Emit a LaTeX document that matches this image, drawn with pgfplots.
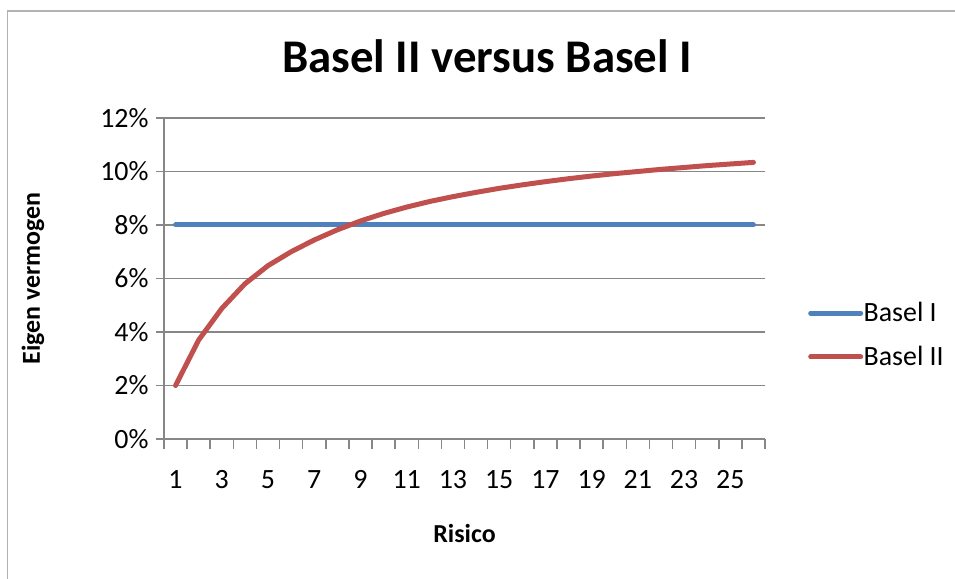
\documentclass[border=0pt]{standalone}
\usepackage{pgfplots}
\pgfplotsset{compat=1.18}
\usepackage{fontspec}
\setmainfont{Carlito}
\definecolor{bI}{HTML}{4F81BD}
\definecolor{bII}{HTML}{C0504D}
\definecolor{gridc}{HTML}{878787}
\begin{document}
\begin{tikzpicture}[x=1bp,y=1bp]
\useasboundingbox (0,0) rectangle (955,579);
\draw[line width=1.5bp, color=gray!60] (7.5,-20) -- (7.5,568) -- (980,568);
\node[font=\fontsize{47}{54}\selectfont\bfseries] at (487,523) {Basel II versus Basel I};
\begin{axis}[at={(164bp,140bp)}, anchor=south west, scale only axis,
  width=601bp, height=321bp,
  xmin=0.5, xmax=26.5, ymin=0, ymax=12,
  axis x line=bottom, axis y line=left,
  axis line style={-, gridc, line width=1.5bp},
  tick align=outside,
  xtick={1,3,...,25}, minor xtick={0.5,1.5,...,26.5},
  major x tick style={draw=none},
  minor x tick style={gridc, line width=1.5bp},
  minor tick length=10bp,
  ytick={0,2,...,12},
  major y tick style={gridc, line width=1.5bp},
  major tick length=8bp,
  ymajorgrids, major grid style={gridc, line width=1.5bp},
  yticklabel={\pgfmathprintnumber{\tick}\%},
  /pgf/number format/assume math mode=true,
  ticklabel style={font=\fontsize{28}{33}\selectfont},
  xticklabel style={yshift=-20bp},
  yticklabel style={xshift=-4bp},
  xlabel={Risico}, ylabel={Eigen vermogen},
  label style={font=\fontsize{26}{31}\selectfont\bfseries},
  xlabel style={at={(axis description cs:0.5,-0.295)}, anchor=center},
  ylabel style={at={(axis description cs:-0.218,0.5)}, anchor=center},
  clip=false,
  legend style={draw=none, fill=none, at={(axis description cs:1.0715,0.324)}, anchor=west,
    font=\fontsize{28}{33}\selectfont, row sep=22bp, inner sep=0pt, nodes={inner sep=0.5bp}},
  legend cell align=left,
  legend image code/.code={\draw[#1] (0bp,0bp) -- (50bp,0bp);},
]
\addplot[bI, line width=5bp, line cap=round, line join=round] coordinates {
(1,8)(2,8)(3,8)(4,8)(5,8)(6,8)(7,8)(8,8)(9,8)(10,8)(11,8)(12,8)(13,8)
(14,8)(15,8)(16,8)(17,8)(18,8)(19,8)(20,8)(21,8)(22,8)(23,8)(24,8)(25,8)(26,8)};
\addlegendentry{Basel I}
\addplot[bII, line width=5bp, line cap=round, line join=round] coordinates {
(1,2.00)(2,3.70)(3,4.88)(4,5.80)(5,6.48)(6,7.00)(7,7.44)(8,7.82)(9,8.15)(10,8.43)
(11,8.67)(12,8.88)(13,9.06)(14,9.22)(15,9.37)(16,9.50)(17,9.62)(18,9.73)(19,9.83)
(20,9.92)(21,10.00)(22,10.08)(23,10.15)(24,10.22)(25,10.28)(26,10.34)};
\addlegendentry{Basel II}
\end{axis}
\end{tikzpicture}
\end{document}
